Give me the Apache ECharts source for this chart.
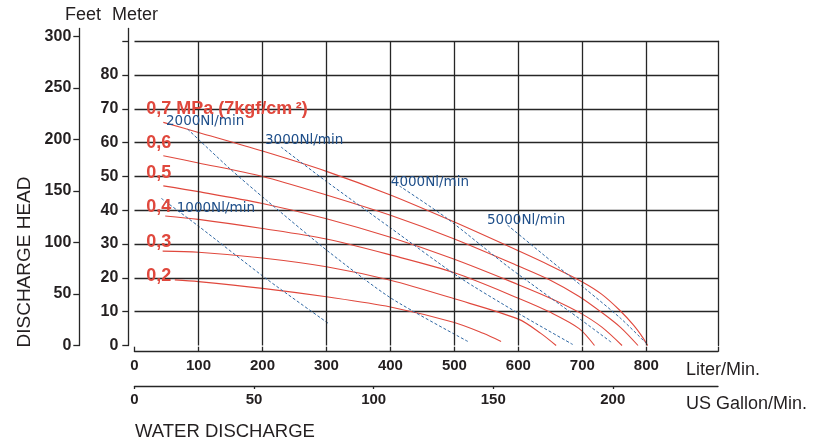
<!DOCTYPE html>
<html>
<head>
<meta charset="utf-8">
<script src="https://cdn.jsdelivr.net/npm/echarts@6/dist/echarts.min.js"></script>
<style>
  html, body { margin: 0; padding: 0; background: #fff; }
  #chart { width: 815px; height: 443px; }
</style>
</head>
<body>
<div id="chart"></div>
<script>
// ---- data (flow in Liter/Min, head in meters) ----
const literTicks = [0, 100, 200, 300, 400, 500, 600, 700, 800];
const gallonTicks = [0, 50, 100, 150, 200];
const meterTicks = [0, 10, 20, 30, 40, 50, 60, 70, 80, 90];
const meterLabels = [0, 10, 20, 30, 40, 50, 60, 70, 80];
const feetTicks = [0, 50, 100, 150, 200, 250, 300];

const pressureNames = ['0,7 MPa (7kgf/cm\u2009²)', '0,6', '0,5', '0,4', '0,3', '0,2'];
const p07 = [[45,66],[100,63],[200,57.5],[300,51.5],[400,44.5],[500,36.5],[600,28],[650,23.6],[700,18.8],[730,15.2],[758,10.5],[780,6],[795,2.2],[802,0]];
const p06 = [[45,56.1],[100,54],[200,50],[300,44.5],[400,38.5],[500,31.5],[600,23.5],[650,19.3],[695,14.5],[730,9.8],[760,5.3],[787,0]];
const p05 = [[45,47.2],[100,45.5],[200,42],[300,37.5],[400,32],[500,25.5],[600,18],[650,14],[695,9.8],[730,5.5],[762,0]];
const p04 = [[48,38.3],[100,37.3],[200,34.6],[300,31.5],[400,26.8],[500,21.5],[600,14],[650,9.8],[695,5],[719,0]];
const p03 = [[44,27.9],[100,27.6],[200,25.9],[300,23.3],[400,19.3],[500,13.8],[600,7.8],[635,3.6],[659,0]];
const p02 = [[63,19.4],[100,18.9],[200,16.9],[300,14.4],[400,11.4],[500,6.8],[545,3.6],[573,1.2]];
const pressureLabelPos = [[18.3,70],[18.3,60],[18.3,50.9],[18.3,41.05],[18.3,30.5],[18.3,20.6]];

const airNames = ['1000Nl/min', '2000Nl/min', '3000Nl/min', '4000Nl/min', '5000Nl/min'];
const air1000 = [[42,43.5],[100,35.3],[207,19.6],[304,6.4]];
const air2000 = [[83,64],[149,52.3],[206,43],[305,27.5],[401,14],[521,1.2]];
const air3000 = [[229,58.7],[300,48.5],[400,34.8],[505,20.5],[600,9.5],[685,0.3]];
const air4000 = [[414,47.2],[487,37.8],[586,23],[695,8],[745,1]];
const air5000 = [[583,35.6],[664,23],[705,16.7],[760,8],[799,0.8]];
const airLabelPos = [[66,40.6],[49.2,66.2],[204,60.5],[400.6,48.3],[551,37.1]];

// ---- style ----
const FONT = "'Liberation Sans', Arial, sans-serif";
const INK = '#231f20';
const GRIDC = '#262626';
const RED = '#e0483d';
const BLUE = '#2f67a3';
const BLUE_TXT = '#1f4f8a';

const GRID_L = 134.5, GRID_R = 97, GRID_T = 41.2, GRID_B = 97.5;
const X_MAX = 912;            // liter scale end (right border)
const GAL_MAX = 244;          // gallon scale end
const M_MAX = 90;
const GRID2_T = 28.5;
const M2_MAX = (443 - GRID2_T - GRID_B) / 3.381;
const FT_MAX = M2_MAX / 0.3048;

const chart = echarts.init(document.getElementById('chart'), null, { renderer: 'canvas' });

const pressureSeries = [p07, p06, p05, p04, p03, p02].map((d, i) => ({
  name: pressureNames[i], type: 'line', xAxisIndex: 0, yAxisIndex: 0,
  data: d, smooth: 0.3, symbol: 'none', silent: true,
  lineStyle: { color: RED, width: 1.1 }, z: 3
}));
const airSeries = [air1000, air2000, air3000, air4000, air5000].map((d, i) => ({
  name: airNames[i], type: 'line', xAxisIndex: 0, yAxisIndex: 0,
  data: d, smooth: 0.25, symbol: 'none', silent: true,
  lineStyle: { color: BLUE, width: 1, type: [3, 2] }, z: 4
}));
const gridLineSeries = {
  type: 'line', xAxisIndex: 0, yAxisIndex: 0, data: [[0, 0]], showSymbol: false, silent: true, z: 1,
  lineStyle: { width: 0 },
  markLine: {
    silent: true, symbol: ['none', 'none'], animation: false,
    label: { show: false },
    lineStyle: { color: GRIDC, width: 1.3, type: 'solid' },
    data: literTicks.filter(v => v > 0).map(v => ({ xAxis: v }))
  }
};

const axisLineStyle = { show: true, onZero: false, lineStyle: { color: GRIDC, width: 1.3 } };

const option = {
  animation: false,
  backgroundColor: '#fff',
  grid: [
    { left: GRID_L, right: GRID_R, top: GRID_T, bottom: GRID_B },
    { left: GRID_L, right: GRID_R, top: GRID2_T, bottom: GRID_B }
  ],
  xAxis: [
    { // Liter/Min
      gridIndex: 0, type: 'value', min: 0, max: X_MAX, interval: 100, position: 'bottom', offset: 6.2,
      axisLine: axisLineStyle,
      axisTick: { show: true, inside: true, length: 5, customValues: literTicks.concat([X_MAX]),
        lineStyle: { color: GRIDC, width: 1.3 } },
      axisLabel: { margin: 7, color: INK, fontFamily: FONT, fontWeight: 'bold', fontSize: 15,
        customValues: literTicks,
        formatter: v => (literTicks.indexOf(v) >= 0 ? String(v) : '') },
      splitLine: { show: false }
    },
    { // US Gallon/Min
      gridIndex: 0, type: 'value', min: 0, max: GAL_MAX, interval: 50, position: 'bottom', offset: 40.5,
      axisLine: axisLineStyle,
      axisTick: { show: true, inside: false, length: 3, customValues: gallonTicks,
        lineStyle: { color: GRIDC, width: 1.3 } },
      axisLabel: { margin: 6, color: INK, fontFamily: FONT, fontWeight: 'bold', fontSize: 15,
        customValues: gallonTicks,
        formatter: v => (gallonTicks.indexOf(v) >= 0 ? String(v) : '') },
      splitLine: { show: false }
    },
    { gridIndex: 1, type: 'value', min: 0, max: X_MAX, show: false }
  ],
  yAxis: [
    { // meter scale for data + horizontal grid lines
      gridIndex: 0, type: 'value', min: 0, max: M_MAX, interval: 10,
      axisLine: { show: false }, axisTick: { show: false }, axisLabel: { show: false },
      splitLine: { show: true, showMinLine: false, lineStyle: { color: GRIDC, width: 1.3 } }
    },
    { // right border
      gridIndex: 0, type: 'value', min: 0, max: M_MAX, position: 'right',
      axisLine: axisLineStyle,
      axisTick: { show: false }, axisLabel: { show: false }, splitLine: { show: false }
    },
    { // Meter axis
      gridIndex: 1, type: 'value', min: 0, max: M2_MAX, interval: 10, position: 'left', offset: 6.2,
      axisLine: axisLineStyle,
      axisTick: { show: true, length: 6, customValues: meterTicks, lineStyle: { color: GRIDC, width: 1.3 } },
      axisLabel: { margin: 10, color: INK, fontFamily: FONT, fontWeight: 'bold', fontSize: 16,
        customValues: meterLabels,
        formatter: v => (meterLabels.indexOf(v) >= 0 ? String(v) : '') },
      splitLine: { show: false }
    },
    { // Feet axis
      gridIndex: 1, type: 'value', min: 0, max: FT_MAX, interval: 50, position: 'left', offset: 55.2,
      axisLine: axisLineStyle,
      axisTick: { show: true, length: 6, customValues: feetTicks, lineStyle: { color: GRIDC, width: 1.3 } },
      axisLabel: { margin: 8, color: INK, fontFamily: FONT, fontWeight: 'bold', fontSize: 16,
        customValues: feetTicks,
        formatter: v => (feetTicks.indexOf(v) >= 0 ? String(v) : '') },
      splitLine: { show: false }
    }
  ],
  series: [gridLineSeries].concat(pressureSeries).concat(airSeries).concat([
    { type: 'line', xAxisIndex: 2, yAxisIndex: 2, data: [], silent: true },
    { type: 'line', xAxisIndex: 2, yAxisIndex: 3, data: [], silent: true }
  ])
};
chart.setOption(option);

// ---- annotations ----
function txt(text, x, y, font, fill, extra) {
  return Object.assign({
    type: 'text', x: x, y: y, silent: true, z: 10,
    style: { text: text, font: font, fill: fill, textAlign: 'left', textVerticalAlign: 'middle', align: 'left', verticalAlign: 'middle' }
  }, extra || {});
}
const graphics = [];
graphics.push(txt('Feet', 65, 15.5, '18px ' + FONT, INK));
graphics.push(txt('Meter', 112, 15.5, '18px ' + FONT, INK));
graphics.push(txt('Liter/Min.', 686, 370, '18px ' + FONT, INK));
graphics.push(txt('US Gallon/Min.', 686, 404.5, '18px ' + FONT, INK));
graphics.push(txt('WATER DISCHARGE', 135, 432, '18.5px ' + FONT, INK));
graphics.push({
  type: 'text', x: 24.5, y: 262, rotation: Math.PI / 2, silent: true, z: 10,
  style: { text: 'DISCHARGE HEAD', font: '19px ' + FONT, fill: INK,
    textAlign: 'center', textVerticalAlign: 'middle', align: 'center', verticalAlign: 'middle' }
});
pressureNames.forEach((name, i) => {
  const p = chart.convertToPixel({ xAxisIndex: 0, yAxisIndex: 0 }, pressureLabelPos[i]);
  graphics.push(txt(name, p[0], p[1], 'bold 18px ' + FONT, RED));
});
airNames.forEach((name, i) => {
  const p = chart.convertToPixel({ xAxisIndex: 0, yAxisIndex: 0 }, airLabelPos[i]);
  graphics.push(txt(name, p[0], p[1], "13.5px 'DejaVu Sans', sans-serif", BLUE_TXT));
});
chart.setOption({ graphic: graphics });
</script>
</body>
</html>
